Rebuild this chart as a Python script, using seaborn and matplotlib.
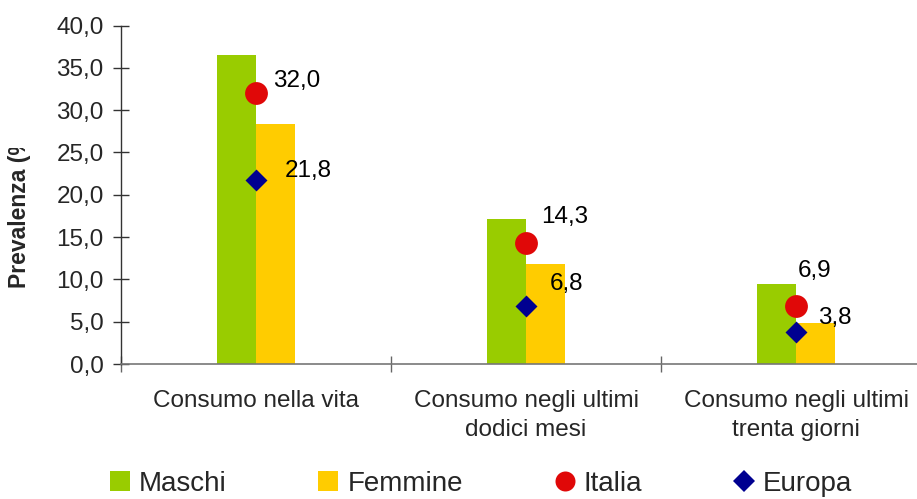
import numpy as np
import pandas as pd
import matplotlib
matplotlib.use("Agg")
import matplotlib.pyplot as plt
from matplotlib.lines import Line2D
from matplotlib.transforms import Bbox, TransformedBbox
from matplotlib.ticker import FixedLocator, FuncFormatter
import seaborn as sns

# ---- data ----
categorie = ["Consumo nella vita",
             "Consumo negli ultimi\ndodici mesi",
             "Consumo negli ultimi\ntrenta giorni"]
maschi = [36.5, 17.1, 9.5]
femmine = [28.4, 11.8, 4.8]
italia = [32.0, 14.3, 6.9]
europa = [21.8, 6.8, 3.8]
serie_barre = ["Maschi", "Femmine"]
y_ticks = [0, 5, 10, 15, 20, 25, 30, 35, 40]

# label offsets (points) for the data labels: (dx, dy)
off_italia = [(12, 9), (11, 18.5), (1.5, 25)]
off_europa = [(21, 6), (17, 16), (16, 10)]

GREEN = "#99CC00"
YELLOW = "#FFCC00"
RED = "#E00808"
BLUE = "#000090"

sns.set_style("white")
plt.rcParams["font.family"] = ["Liberation Sans", "DejaVu Sans"]

W, H = 917, 499
fig = plt.figure(figsize=(W / 100, H / 100), dpi=100)
ax = fig.add_axes([121 / W, 1 - 364 / H, 810 / W, 338.5 / H])

df = pd.DataFrame({
    "categoria": categorie * 2,
    "valore": maschi + femmine,
    "sesso": [serie_barre[0]] * len(categorie) + [serie_barre[1]] * len(categorie),
})
sns.barplot(data=df, x="categoria", y="valore", hue="sesso", order=categorie,
            hue_order=serie_barre, palette=[GREEN, YELLOW], width=0.289,
            saturation=1, linewidth=0, legend=False, ax=ax, errorbar=None)

pos = np.arange(len(categorie))
ax.scatter(pos, italia, s=270, marker="o", color=RED, zorder=5, linewidths=0)
ax.scatter(pos, europa, s=125, marker="D", color=BLUE, zorder=5, linewidths=0)

def fmt(v):
    return f"{v:.1f}".replace(".", ",")

for i, v in enumerate(italia):
    ax.annotate(fmt(v), (pos[i], v), xytext=off_italia[i], textcoords="offset points",
                ha="left", va="center", fontsize=17.5, color="black", zorder=6)
for i, v in enumerate(europa):
    ax.annotate(fmt(v), (pos[i], v), xytext=off_europa[i], textcoords="offset points",
                ha="left", va="center", fontsize=17.5, color="black", zorder=6)

ax.set_xlim(-0.5, len(categorie) - 0.5)
ax.set_ylim(0, 40)
ax.set_xlabel("")
ax.set_ylabel("")

ax.yaxis.set_major_locator(FixedLocator(y_ticks))
ax.yaxis.set_major_formatter(FuncFormatter(lambda v, p: fmt(v)))
ax.tick_params(axis="y", direction="inout", length=11, width=1, color="#333333",
               labelsize=17.5, pad=7, left=True)

ax.set_xticks(pos)
ax.set_xticklabels(categorie, fontsize=17.5, linespacing=1.45)
ax.tick_params(axis="x", which="major", length=0, pad=18.5)
ax.set_xticks(np.arange(-0.5, len(categorie), 1.0), minor=True)
ax.tick_params(axis="x", which="minor", direction="inout", length=11, width=1,
               color="#666666", bottom=True)

for s in ["top", "right"]:
    ax.spines[s].set_visible(False)
ax.spines["left"].set_color("#333333")
ax.spines["left"].set_linewidth(1)
ax.spines["bottom"].set_color("#777777")
ax.spines["bottom"].set_linewidth(1.2)
ax.grid(False)

# y label (partly clipped like the reference)
yl = fig.text(20 / W, 1 - 288 / H, "Prevalenza (%)", rotation=90, ha="center",
              va="bottom", fontsize=16.5, fontweight="bold")
yl.set_clip_box(TransformedBbox(Bbox.from_extents(0, 0, 1, 1 - 148 / H), fig.transFigure))
yl.set_clip_on(True)

handles = [
    Line2D([], [], linestyle="none", marker="s", markersize=14.4, color=GREEN, markeredgewidth=0),
    Line2D([], [], linestyle="none", marker="s", markersize=14.4, color=YELLOW, markeredgewidth=0),
    Line2D([], [], linestyle="none", marker="o", markersize=14.4, color=RED, markeredgewidth=0),
    Line2D([], [], linestyle="none", marker="D", markersize=11.2, color=BLUE, markeredgewidth=0),
]
labels = serie_barre + ["Italia", "Europa"]
fig.legend(handles, labels, loc="center", bbox_to_anchor=(481 / W, 1 - 484 / H),
           ncol=4, frameon=False, fontsize=20, handlelength=0.72,
           handletextpad=0.33, columnspacing=3.3, borderpad=0, borderaxespad=0)

fig.savefig("out.png", dpi=100)
